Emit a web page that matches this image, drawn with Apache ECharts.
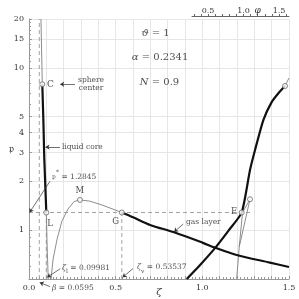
<!DOCTYPE html>
<html><head><meta charset="utf-8">
<script src="https://cdn.jsdelivr.net/npm/echarts@6/dist/echarts.min.js"></script>
<style>html,body{margin:0;padding:0;background:#fff}#c{width:299px;height:299px}</style>
</head><body><div id="c"></div>
<script>
// ---- data ----
const xTickLabels = [0.0, 0.5, 1.0, 1.5];
const yTickLabels = [1, 2, 3, 4, 5, 10, 15, 20];
const yMinorTicks = [0.5,0.6,0.7,0.8,0.9,1,2,3,4,5,6,7,8,9,10,11,12,13,14,15,16,17,18,19,20];
const phiTicks = [0.3,0.4,0.5,0.6,0.7,0.8,0.9,1.0,1.1,1.2,1.3,1.4,1.5,1.6];
const phiLabels = [0.5, 1.0, 1.5];

const liquidUpper = [[0.069,20],[0.0767,7.92]];
const liquidCore  = [[0.0767,7.92],[0.083,4.7],[0.088,2.8],[0.09981,1.2845]];
const liquidLower = [[0.09981,1.2845],[0.104,0.85],[0.108,0.62],[0.111,0.5]];
const unstable    = [[0.127,0.5],[0.139,0.663],[0.162,0.88],[0.19,1.136],[0.225,1.35],[0.26,1.5],[0.294,1.535],[0.35,1.51],[0.42,1.43],[0.53537,1.2845]];
const gasLayer    = [[0.53537,1.2845],[0.6,1.2],[0.698,1.077],[0.837,0.97],[1.0,0.838],[1.073,0.78],[1.198,0.703],[1.39,0.631],[1.5,0.593]];
const rising      = [[0.91,0.5],[0.987,0.61],[1.073,0.775],[1.15,0.99],[1.227,1.2845],[1.275,2.35],[1.304,3.12],[1.352,4.77],[1.40,6.15],[1.44,7.0],[1.477,7.73]];
const loopA       = [[1.198,0.5],[1.213,0.79],[1.275,1.55]];
const loopB       = [[1.213,0.79],[1.232,1.2845],[1.275,1.55]];
const tailThin    = [[1.477,7.73],[1.5,8.66]];

const betaLine  = [[0.0595,0.5],[0.0595,20]];
const zetaLLine = [[0.09981,0.5],[0.09981,1.2845]];
const zetaVLine = [[0.53537,0.5],[0.53537,1.2845]];
const pStarLine = [[0,1.2845],[1.29,1.2845]];

const markers = [[0.0767,7.92],[0.09981,1.2845],[0.294,1.535],[0.53537,1.2845],[1.227,1.2845],[1.275,1.55],[1.477,7.73]];

const arrows = [
  [[0.265,7.92],[0.18,7.92]],
  [[0.179,3.25],[0.095,3.25]],
  [[0.121,2.0],[0.003,1.2845]],
  [[0.89,1.09],[0.837,0.975]],
  [[0.18,0.578],[0.105,0.512]],
  [[0.6,0.58],[0.54,0.512]],
  [[0.121,0.449],[0.062,0.475]]
];

const texts = [
  {x:0.104, y:7.92, t:'C', align:'left', size:9},
  {x:0.358, y:7.92, t:'sphere\ncenter', align:'center', size:7.5},
  {x:0.19, y:3.25, t:'liquid core', align:'left', size:7.5},
  {x:0.133, y:2.13, t:'{fr|\u{1D52D}}{sup|*} = 1.2845', align:'left', size:7.5},
  {x:0.294, y:1.74, t:'M', align:'center', size:8.5},
  {x:0.106, y:1.09, t:'L', align:'left', size:8.5},
  {x:0.50, y:1.12, t:'G', align:'center', size:8.5},
  {x:1.183, y:1.295, t:'E', align:'center', size:8.5},
  {x:0.906, y:1.12, t:'gas layer', align:'left', size:7.5},
  {x:0.19, y:0.585, t:'{i|ζ}{sub|l} = 0.09981', align:'left', size:7.5},
  {x:0.623, y:0.593, t:'{i|ζ}{sub|v} = 0.53537', align:'left', size:7.5},
  {x:0.133, y:0.44, t:'{i|β} = 0.0595', align:'left', size:7.5},
  {x:0.730, y:16.4, t:'{i|ϑ} = 1', align:'center', size:10},
  {x:0.756, y:11.6, t:'{i|α} = 0.2341', align:'center', size:10},
  {x:0.753, y:8.15, t:'{i|N} = 0.9', align:'center', size:10}
];

// ---- build ----
const L10 = v => Math.log10(v);
const P = a => a.map(([x,y]) => [x, L10(y)]);
const FF = 'DejaVu Serif';
const thin = {color:'#808080', width:0.9};
const thick = {color:'#111', width:2.2};
const dash = {color:'#999', width:0.9, type:[4,3]};
function line(data, style, z) {
  return {type:'line', data:P(data), showSymbol:false, symbol:'none', lineStyle:style, z:z||2, silent:true, animation:false, clip:false};
}
const rich = {
  i:{fontStyle:'italic', fontFamily:FF},
  sub:{fontSize:6, verticalAlign:'bottom', fontFamily:FF, lineHeight:14},
  sup:{fontSize:6, verticalAlign:'top', fontFamily:FF, lineHeight:14},
  fr:{fontFamily:FF}
};

const option = {
  animation:false,
  backgroundColor:'#fff',
  grid:[
    {left:29, right:10, top:19, height:260, outerBoundsMode:'none', containLabel:false},
    {left:192, right:10, top:16, height:1, outerBoundsMode:'none', containLabel:false}
  ],
  xAxis:[
    {type:'value', gridIndex:0, min:0, max:1.5, interval:0.1,
     name:'ζ', nameLocation:'middle', nameGap:8, nameMoveOverlap:false,
     nameTextStyle:{fontFamily:FF, fontStyle:'italic', fontSize:10, color:'#333'},
     axisLine:{onZero:false, lineStyle:{color:'#999', width:1}},
     axisTick:{show:true, inside:true, length:3, lineStyle:{color:'#999'}},
     minorTick:{show:true, splitNumber:5, length:2, lineStyle:{color:'#999'}},
     splitLine:{show:true, lineStyle:{color:'#e6e6e6', width:1}},
     axisLabel:{interval:0, hideOverlap:false, margin:5, fontFamily:FF, fontSize:8, color:'#333',
       formatter: v => xTickLabels.some(t => Math.abs(t - v) < 1e-6) ? v.toFixed(1) : ''}},
    {type:'value', gridIndex:1, position:'top', min:0.275, max:1.64,
     axisLine:{onZero:false, lineStyle:{color:'#666', width:1}},
     axisTick:{show:true, length:2, customValues:phiTicks, lineStyle:{color:'#666'}},
     splitLine:{show:false},
     axisLabel:{customValues:[...phiLabels, 1.2], margin:1, fontFamily:FF, fontSize:8, color:'#333',
       formatter: v => Math.abs(v-1.2)<1e-6 ? '{i|φ}' : v.toFixed(1), rich:{i:{fontStyle:'italic', fontFamily:FF, fontSize:9}}}}
  ],
  yAxis:[
    {type:'value', gridIndex:0, min:L10(0.5), max:L10(20),
     name:'\u{1D52D}', nameLocation:'middle', nameGap:15, nameRotate:0, nameMoveOverlap:false,
     nameTextStyle:{fontFamily:FF, fontSize:11, color:'#333'},
     axisLine:{show:true, onZero:false, lineStyle:{color:'#999', width:1}},
     axisTick:{show:true, inside:true, length:3, customValues:yTickLabels.map(L10), lineStyle:{color:'#999'}},
     splitLine:{show:true, lineStyle:{color:'#e6e6e6', width:1}},
     axisLabel:{customValues:yTickLabels.map(L10), margin:5, fontFamily:FF, fontSize:8, color:'#333',
       formatter: v => String(Math.round(Math.pow(10, v)))}},
    {type:'value', gridIndex:0, position:'left', min:L10(0.5), max:L10(20),
     axisLine:{show:false, onZero:false},
     axisTick:{show:true, inside:true, length:2, customValues:yMinorTicks.map(L10), lineStyle:{color:'#999'}},
     splitLine:{show:false}, axisLabel:{show:false}},
    {type:'value', gridIndex:1, min:0, max:1, show:false}
  ],
  series:[
    line(betaLine, dash, 1),
    line(zetaLLine, dash, 1),
    line(zetaVLine, dash, 1),
    line(pStarLine, dash, 1),
    line(liquidUpper, thin),
    line(liquidLower, thin),
    line(unstable, thin),
    line(loopA, thin),
    line(loopB, thin),
    line(tailThin, thin),
    line(liquidCore, thick, 3),
    Object.assign(line(gasLayer, thick, 3), {smooth:0.3}),
    Object.assign(line(rising, thick, 3), {smooth:0.2}),
    {type:'scatter', data:P(markers), symbol:'circle', symbolSize:5, z:5,
     itemStyle:{color:'#fff', borderColor:'#666', borderWidth:1}, silent:true},
    {type:'lines', coordinateSystem:'cartesian2d', clip:false, z:4, silent:true,
     symbol:['none','arrow'], symbolSize:4,
     lineStyle:{color:'#333', width:0.7, opacity:1, curveness:0},
     data: arrows.map(a => ({coords:P(a)}))},
    {type:'scatter', clip:false, symbolSize:0, z:6, silent:true,
     data: texts.map(o => ({value:[o.x, L10(o.y)], label:{show:true, position:[0,0], formatter:o.t,
       align:o.align, verticalAlign:'middle', fontSize:o.size, fontFamily:FF, color:'#222', rich:rich}}))},
    {type:'line', xAxisIndex:1, yAxisIndex:2, data:[], showSymbol:false}
  ]
};
echarts.init(document.getElementById('c'), null, {renderer:'canvas'}).setOption(option);
</script></body></html>
